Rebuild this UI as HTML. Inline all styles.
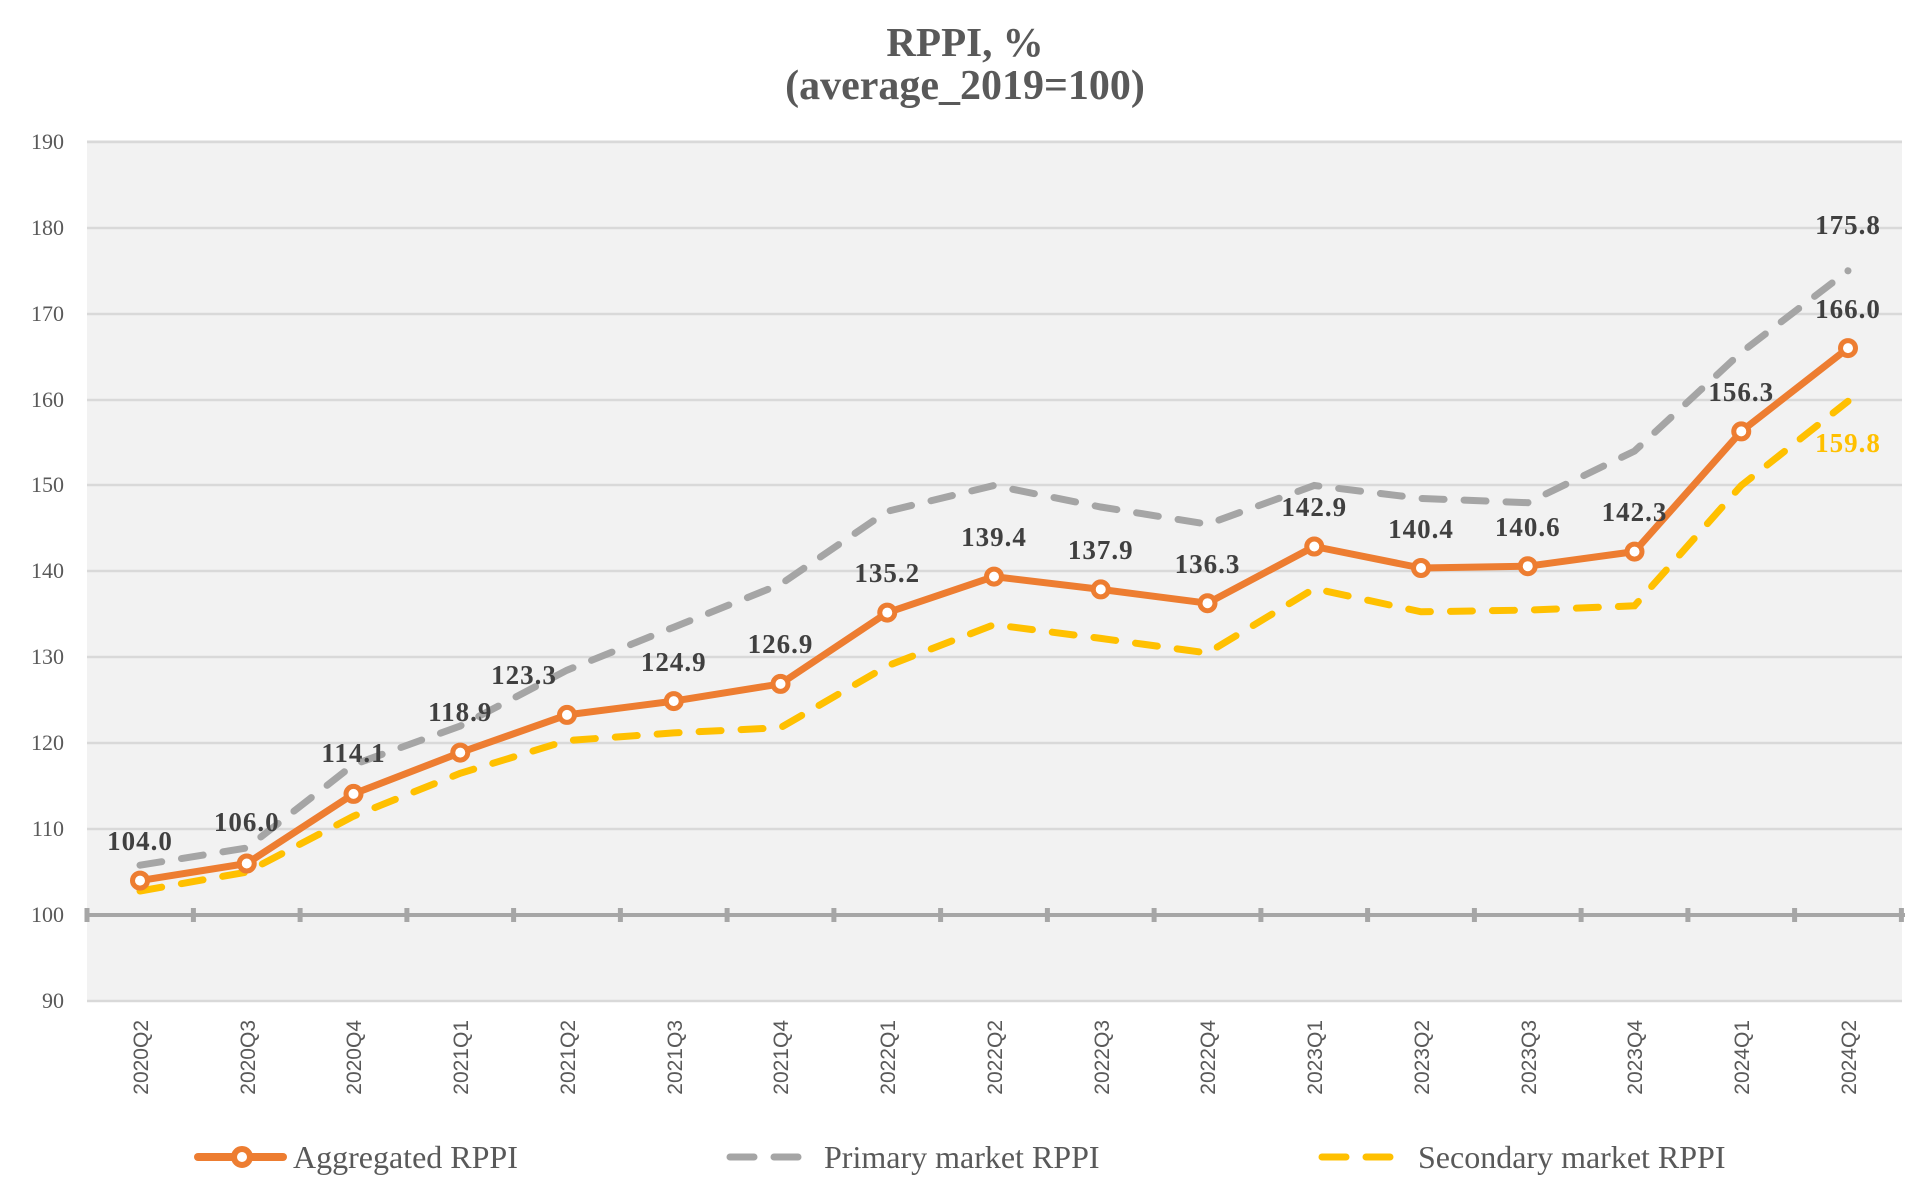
<!DOCTYPE html>
<html><head><meta charset="utf-8"><style>
html,body{margin:0;padding:0;background:#fff;}
svg{display:block;}
</style></head><body>
<svg width="1929" height="1195" xmlns="http://www.w3.org/2000/svg">
<rect x="0" y="0" width="1929" height="1195" fill="#fff"/>
<g font-family="Liberation Serif, serif" font-weight="bold" fill="#595959" text-anchor="middle">
<text x="965" y="56" font-size="41">RPPI, %</text>
<text x="965" y="99" font-size="42">(average_2019=100)</text>
</g>
<rect x="87" y="140" width="1815" height="861" fill="#f2f2f2"/>
<g stroke="#d9d9d9" stroke-width="2.5">
<line x1="87" x2="1902" y1="142" y2="142"/><line x1="87" x2="1902" y1="228" y2="228"/>
<line x1="87" x2="1902" y1="314" y2="314"/><line x1="87" x2="1902" y1="400" y2="400"/>
<line x1="87" x2="1902" y1="485" y2="485"/><line x1="87" x2="1902" y1="571" y2="571"/>
<line x1="87" x2="1902" y1="657" y2="657"/><line x1="87" x2="1902" y1="743" y2="743"/>
<line x1="87" x2="1902" y1="829" y2="829"/><line x1="87" x2="1902" y1="1001" y2="1001"/>
</g>
<g font-family="Liberation Serif, serif" font-size="22" fill="#595959" text-anchor="end">
<text x="64" y="149">190</text><text x="64" y="235">180</text><text x="64" y="321">170</text>
<text x="64" y="407">160</text><text x="64" y="492">150</text><text x="64" y="578">140</text>
<text x="64" y="664">130</text><text x="64" y="750">120</text><text x="64" y="836">110</text>
<text x="64" y="922">100</text><text x="64" y="1008">90</text>
</g>
<line x1="86" x2="1905" y1="915" y2="915" stroke="#a6a6a6" stroke-width="4"/>
<g stroke="#a6a6a6" stroke-width="5">
<line x1="87" x2="87" y1="908" y2="922"/><line x1="193.4" x2="193.4" y1="908" y2="922"/>
<line x1="300.1" x2="300.1" y1="908" y2="922"/><line x1="406.9" x2="406.9" y1="908" y2="922"/>
<line x1="513.6" x2="513.6" y1="908" y2="922"/><line x1="620.4" x2="620.4" y1="908" y2="922"/>
<line x1="727.1" x2="727.1" y1="908" y2="922"/><line x1="833.9" x2="833.9" y1="908" y2="922"/>
<line x1="940.6" x2="940.6" y1="908" y2="922"/><line x1="1047.4" x2="1047.4" y1="908" y2="922"/>
<line x1="1154.1" x2="1154.1" y1="908" y2="922"/><line x1="1260.9" x2="1260.9" y1="908" y2="922"/>
<line x1="1367.6" x2="1367.6" y1="908" y2="922"/><line x1="1474.4" x2="1474.4" y1="908" y2="922"/>
<line x1="1581.1" x2="1581.1" y1="908" y2="922"/><line x1="1687.9" x2="1687.9" y1="908" y2="922"/>
<line x1="1794.6" x2="1794.6" y1="908" y2="922"/><line x1="1901.4" x2="1901.4" y1="908" y2="922"/>
</g>
<g font-family="Liberation Sans Narrow, Liberation Sans, sans-serif" font-size="21" fill="#595959" text-anchor="end">
<text transform="translate(148,1020) rotate(-90)">2020Q2</text>
<text transform="translate(255,1020) rotate(-90)">2020Q3</text>
<text transform="translate(361,1020) rotate(-90)">2020Q4</text>
<text transform="translate(468,1020) rotate(-90)">2021Q1</text>
<text transform="translate(575,1020) rotate(-90)">2021Q2</text>
<text transform="translate(682,1020) rotate(-90)">2021Q3</text>
<text transform="translate(788,1020) rotate(-90)">2021Q4</text>
<text transform="translate(895,1020) rotate(-90)">2022Q1</text>
<text transform="translate(1002,1020) rotate(-90)">2022Q2</text>
<text transform="translate(1109,1020) rotate(-90)">2022Q3</text>
<text transform="translate(1215,1020) rotate(-90)">2022Q4</text>
<text transform="translate(1322,1020) rotate(-90)">2023Q1</text>
<text transform="translate(1429,1020) rotate(-90)">2023Q2</text>
<text transform="translate(1536,1020) rotate(-90)">2023Q3</text>
<text transform="translate(1642,1020) rotate(-90)">2023Q4</text>
<text transform="translate(1749,1020) rotate(-90)">2024Q1</text>
<text transform="translate(1856,1020) rotate(-90)">2024Q2</text>
</g>
<polyline fill="none" stroke="#a5a5a5" stroke-width="7" stroke-linecap="round" stroke-dasharray="22 20"
points="140,865.2 246.75,848 353.5,764.7 460.25,726 567,670.2 673.75,627.2 780.5,584.3 887.25,511.3 994,485.5 1100.75,507 1207.5,524.2 1314.25,485.5 1421,498.4 1527.75,502.7 1634.5,451.1 1741.25,352.4 1848,270.8"/>
<polyline fill="none" stroke="#ffc000" stroke-width="7" stroke-linecap="round" stroke-dasharray="22 20"
points="140,891 246.75,872.1 353.5,816.2 460.25,773.3 567,740.6 673.75,732.9 780.5,727.7 887.25,665.9 994,624.7 1100.75,638.4 1207.5,653 1314.25,588.6 1421,611.8 1527.75,610.1 1634.5,605.8 1741.25,485.5 1848,401.3"/>
<polyline fill="none" stroke="#ed7d31" stroke-width="7" stroke-linejoin="round"
points="140,880.6 246.75,863.5 353.5,793.9 460.25,752.6 567,714.9 673.75,701.1 780.5,683.9 887.25,612.6 994,576.6 1100.75,589.4 1207.5,603.2 1314.25,546.5 1421,568 1527.75,566.2 1634.5,551.6 1741.25,431.4 1848,348.1"/>
<g fill="#fff" stroke="#ed7d31" stroke-width="5">
<circle cx="140" cy="880.6" r="7.5"/><circle cx="246.75" cy="863.5" r="7.5"/><circle cx="353.5" cy="793.9" r="7.5"/>
<circle cx="460.25" cy="752.6" r="7.5"/><circle cx="567" cy="714.9" r="7.5"/><circle cx="673.75" cy="701.1" r="7.5"/>
<circle cx="780.5" cy="683.9" r="7.5"/><circle cx="887.25" cy="612.6" r="7.5"/><circle cx="994" cy="576.6" r="7.5"/>
<circle cx="1100.75" cy="589.4" r="7.5"/><circle cx="1207.5" cy="603.2" r="7.5"/><circle cx="1314.25" cy="546.5" r="7.5"/>
<circle cx="1421" cy="568" r="7.5"/><circle cx="1527.75" cy="566.2" r="7.5"/><circle cx="1634.5" cy="551.6" r="7.5"/>
<circle cx="1741.25" cy="431.4" r="7.5"/><circle cx="1848" cy="348.1" r="7.5"/>
</g>
<g font-family="Liberation Serif, serif" font-weight="bold" font-size="27" letter-spacing="1" fill="#404040" text-anchor="middle">
<text x="140" y="850">104.0</text><text x="246.75" y="831">106.0</text><text x="353.5" y="762">114.1</text>
<text x="460.25" y="721">118.9</text><text x="524" y="684">123.3</text><text x="673.75" y="671">124.9</text>
<text x="780.5" y="653">126.9</text><text x="887.25" y="582">135.2</text><text x="994" y="546">139.4</text>
<text x="1100.75" y="559">137.9</text><text x="1207.5" y="573">136.3</text><text x="1314.25" y="516">142.9</text>
<text x="1421" y="538">140.4</text><text x="1527.75" y="536">140.6</text><text x="1634.5" y="521">142.3</text>
<text x="1741.25" y="401">156.3</text><text x="1848" y="318">166.0</text><text x="1848" y="234">175.8</text>
<text x="1848" y="452" fill="#ffc000">159.8</text>
</g>
<g font-family="Liberation Serif, serif" font-size="32" fill="#595959">
<line x1="198" x2="283" y1="1157" y2="1157" stroke="#ed7d31" stroke-width="8" stroke-linecap="round"/>
<circle cx="242" cy="1157" r="8" fill="#fff" stroke="#ed7d31" stroke-width="6"/>
<text x="293" y="1168">Aggregated RPPI</text>
<line x1="730" x2="810" y1="1157" y2="1157" stroke="#a5a5a5" stroke-width="7" stroke-linecap="round" stroke-dasharray="24 20"/>
<text x="824" y="1168">Primary market RPPI</text>
<line x1="1322" x2="1404" y1="1157" y2="1157" stroke="#ffc000" stroke-width="7" stroke-linecap="round" stroke-dasharray="24 20"/>
<text x="1418" y="1168">Secondary market RPPI</text>
</g>
</svg>
</body></html>
